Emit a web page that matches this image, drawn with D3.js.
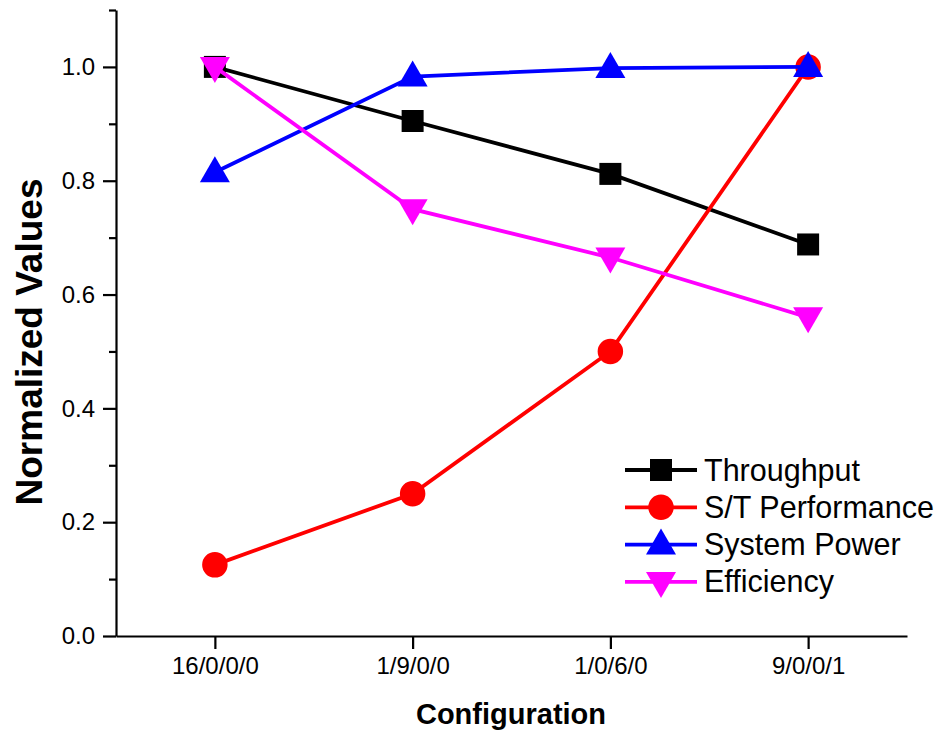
<!DOCTYPE html>
<html><head><meta charset="utf-8">
<script src="https://d3js.org/d3.v7.min.js"></script>
<style>body{margin:0;background:#fff}svg{display:block}text{font-family:"Liberation Sans",Arial,sans-serif}</style>
</head><body><svg id="c" width="940" height="733"></svg>
<script>
const categories = ["16/0/0/0", "1/9/0/0", "1/0/6/0", "9/0/0/1"];
const throughput = [1.0, 0.905, 0.812, 0.688];
const stPerformance = [0.125, 0.25, 0.5, 1.0];
const systemPower = [0.815, 0.983, 0.998, 1.0];
const efficiency = [1.0, 0.75, 0.665, 0.56];
const seriesNames = ["Throughput", "S/T Performance", "System Power", "Efficiency"];
const seriesColors = ["#000000", "#ff0000", "#0000ff", "#ff00ff"];
const seriesSymbols = ["square", "circle", "triangle", "triangleDown"];
const yMajorTicks = [0.0, 0.2, 0.4, 0.6, 0.8, 1.0];
const yMinorTicks = [0.1, 0.3, 0.5, 0.7, 0.9, 1.1];

const series = [throughput, stPerformance, systemPower, efficiency].map((v, i) => ({
  name: seriesNames[i], color: seriesColors[i], symbol: seriesSymbols[i], values: v
}));

const svg = d3.select("#c");
const m = {left: 116, top: 10, right: 33, bottom: 97};
const W = 940 - m.left - m.right, H = 733 - m.top - m.bottom;
const g = svg.append("g").attr("transform", `translate(${m.left},${m.top})`);

const x = d3.scalePoint().domain(categories).range([0, W]).padding(0.5);
const y = d3.scaleLinear().domain([0, 1.1]).range([H, 0]);

// axes
const xAxis = g.append("g").attr("transform", `translate(0,${H})`)
  .call(d3.axisBottom(x).tickSize(13).tickSizeOuter(0).tickPadding(8));
const yAxis = g.append("g")
  .call(d3.axisLeft(y).tickValues(yMajorTicks).tickFormat(d3.format(".1f")).tickSize(13).tickSizeOuter(0).tickPadding(8));
g.append("g").call(d3.axisLeft(y).tickValues(yMinorTicks).tickFormat("").tickSize(7).tickSizeOuter(0))
  .select(".domain").remove();
g.selectAll(".domain").attr("stroke", "#000").attr("stroke-width", 2.2);
g.selectAll(".tick line").attr("stroke", "#000").attr("stroke-width", 2.2);
g.selectAll(".tick text").attr("font-size", 24).attr("fill", "#000")
  .style("font-family", '"Liberation Sans", Arial, sans-serif');

// titles
svg.append("text").attr("x", 511).attr("y", 724).attr("text-anchor", "middle")
  .attr("font-size", 29).attr("font-weight", "bold").text("Configuration");
svg.append("text").attr("transform", "translate(42,342) rotate(-90)").attr("text-anchor", "middle")
  .attr("font-size", 37).attr("font-weight", "bold").text("Normalized Values");

function symPath(sym) {
  if (sym === "square") return "M-11,-11H11V11H-11Z";
  if (sym === "circle") return d3.symbol(d3.symbolCircle, 510)();
  if (sym === "triangle") return "M0,-16L15,10H-15Z";
  return "M0,16L15,-10H-15Z";
}

const line = d3.line().x((d, i) => x(categories[i])).y(d => y(d));
series.forEach(s => {
  const sg = g.append("g");
  sg.append("path").attr("d", line(s.values)).attr("fill", "none")
    .attr("stroke", s.color).attr("stroke-width", 3.8);
  sg.selectAll("path.m").data(s.values).enter().append("path").attr("class", "m")
    .attr("transform", (d, i) => `translate(${x(categories[i])},${y(d)})`)
    .attr("d", symPath(s.symbol)).attr("fill", s.color);
});

// legend
const lg = svg.append("g").attr("transform", "translate(625,470)");
series.forEach((s, i) => {
  const row = lg.append("g").attr("transform", `translate(0,${i * 37.3})`);
  row.append("line").attr("x1", 0).attr("x2", 72).attr("stroke", s.color).attr("stroke-width", 3.8);
  row.append("path").attr("transform", "translate(36,0)").attr("d", symPath(s.symbol)).attr("fill", s.color);
  row.append("text").attr("x", 79).attr("y", 10.5).attr("font-size", 30.5).attr("fill", "#000").text(s.name);
});
</script></body></html>
